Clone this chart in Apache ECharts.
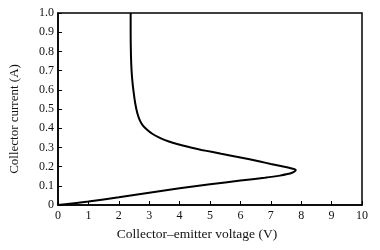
<!DOCTYPE html>
<html>
<head>
<meta charset="utf-8">
<script src="https://cdn.jsdelivr.net/npm/echarts@6/dist/echarts.min.js"></script>
<style>html,body{margin:0;padding:0;background:#fff}#c{width:380px;height:250px}</style>
</head>
<body>
<div id="c"></div>
<script>
// Curve points (voltage V, current A)
const voltage = [0, 1, 2, 3, 4, 5, 6, 6.8, 7.3, 7.55, 7.7, 7.79, 7.82, 7.78, 7.6, 7.33, 7.0, 6.68, 6.3, 5.96, 5.7, 5.37, 5.05, 4.72, 4.4, 4.07, 3.8, 3.52, 3.3, 3.1, 2.95, 2.8, 2.7, 2.61, 2.54, 2.49, 2.45, 2.42, 2.40, 2.39, 2.39];
const current = [0, 0.018, 0.04, 0.064, 0.087, 0.108, 0.127, 0.142, 0.153, 0.161, 0.168, 0.176, 0.182, 0.187, 0.194, 0.203, 0.214, 0.225, 0.238, 0.249, 0.257, 0.267, 0.277, 0.287, 0.298, 0.311, 0.323, 0.338, 0.353, 0.371, 0.389, 0.412, 0.438, 0.478, 0.53, 0.585, 0.64, 0.7, 0.78, 0.9, 1.0];
const xTicks = ['0','1','2','3','4','5','6','7','8','9','10'];
const yTicks = ['0','0.1','0.2','0.3','0.4','0.5','0.6','0.7','0.8','0.9','1.0'];
const xName = 'Collector–emitter voltage (V)';
const yName = 'Collector current (A)';

const data = voltage.map((v, i) => [v, current[i]]);
const font = 'Liberation Serif';
const chart = echarts.init(document.getElementById('c'));
chart.setOption({
  animation: false,
  backgroundColor: '#fff',
  grid: {left: 55, right: 18, top: 13, bottom: 45, show: true, borderColor: '#000', borderWidth: 1.5, backgroundColor: 'transparent'},
  xAxis: {
    type: 'value', min: 0, max: 10, interval: 1,
    name: xName, nameLocation: 'middle', nameGap: 22,
    nameTextStyle: {fontFamily: font, fontSize: 13.5, color: '#111', padding: [0, 26, 0, 0]},
    axisLine: {show: true, lineStyle: {color: '#000', width: 1.5}},
    axisTick: {show: true, inside: true, length: 4, lineStyle: {color: '#000'}},
    axisLabel: {fontFamily: font, fontSize: 12, color: '#111', margin: 5, formatter: (v) => xTicks[Math.round(v)]},
    splitLine: {show: false}
  },
  yAxis: {
    type: 'value', min: 0, max: 1, interval: 0.1,
    name: yName, nameLocation: 'middle', nameGap: 37, nameRotate: 90,
    nameTextStyle: {fontFamily: font, fontSize: 13, color: '#111', padding: [0, 20, 0, 0]},
    axisLine: {show: true, lineStyle: {color: '#000', width: 1.5}},
    axisTick: {show: true, inside: true, length: 4, lineStyle: {color: '#000'}},
    axisLabel: {fontFamily: font, fontSize: 12, color: '#111', margin: 4, formatter: (v) => yTicks[Math.round(v * 10)]},
    splitLine: {show: false}
  },
  series: [{
    type: 'line', data: data, smooth: 0.25, showSymbol: false,
    lineStyle: {color: '#000', width: 2}
  }]
});
</script>
</body>
</html>
